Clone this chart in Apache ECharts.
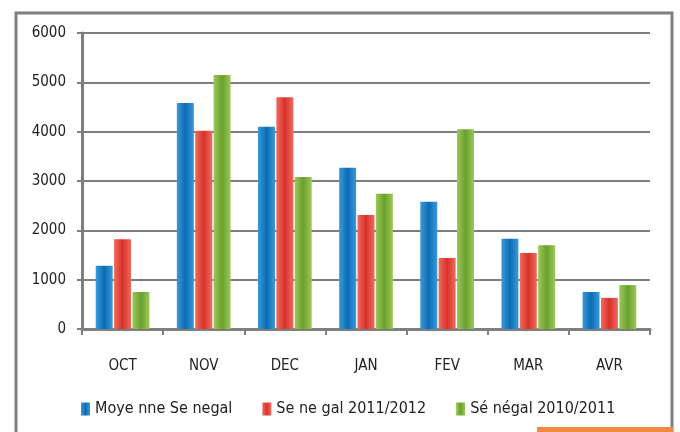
<!DOCTYPE html>
<html>
<head>
<meta charset="utf-8">
<script src="https://cdn.jsdelivr.net/npm/echarts@6/dist/echarts.min.js"></script>
<style>
  html, body { margin: 0; padding: 0; background: #fff; }
  #chart { width: 680px; height: 432px; }
</style>
</head>
<body>
<div id="chart"></div>
<script>
const months = ['OCT', 'NOV', 'DEC', 'JAN', 'FEV', 'MAR', 'AVR']
const seriesNames = ['Moye nne Se negal', 'Se ne gal 2011/2012', 'Sé négal 2010/2011']
const moyenne = [1280, 4580, 4100, 3270, 2580, 1830, 750]
const s2011 = [1820, 4020, 4700, 2310, 1440, 1540, 630]
const s2010 = [750, 5150, 3080, 2740, 4050, 1700, 890]

const font = '"DejaVu Sans Condensed", "DejaVu Sans", sans-serif'

function grad(light, dark) {
  return new echarts.graphic.LinearGradient(0, 0, 1, 0, [
    { offset: 0, color: light },
    { offset: 0.5, color: dark },
    { offset: 1, color: light }
  ])
}

const chart = echarts.init(document.getElementById('chart'))

function barSeries(name, data, light, dark) {
  return {
    name,
    type: 'bar',
    data,
    barWidth: 17,
    barGap: '8%',
    itemStyle: { color: grad(light, dark) }
  }
}

chart.setOption({
  animation: false,
  color: ['#1a7cc4', '#e5453c', '#7db33a'],
  textStyle: { fontFamily: font },
  graphic: [
    {
      type: 'rect',
      shape: { x: 16, y: 13, width: 656, height: 430 },
      style: { fill: 'none', stroke: '#7f7f7f', lineWidth: 3 },
      z: -1
    },
    {
      type: 'rect',
      shape: { x: 537, y: 427, width: 136, height: 5 },
      style: { fill: '#f08a43' }
    }
  ],
  grid: { left: 82, right: 30, top: 33, bottom: 103 },
  legend: {
    bottom: 10,
    left: 76,
    itemGap: 30,
    itemWidth: 9,
    itemHeight: 13,
    icon: 'rect',
    textStyle: { fontSize: 16, color: '#222', fontFamily: font },
    data: seriesNames
  },
  xAxis: {
    type: 'category',
    data: months,
    axisLine: { lineStyle: { color: '#7f7f7f', width: 3 } },
    axisTick: { show: true, length: 6, lineStyle: { color: '#7f7f7f', width: 2 } },
    axisLabel: { fontSize: 15, color: '#222', margin: 30 }
  },
  yAxis: {
    type: 'value',
    min: 0,
    max: 6000,
    interval: 1000,
    axisLine: { show: true, lineStyle: { color: '#7f7f7f', width: 3 } },
    axisTick: { show: true, length: 5, lineStyle: { color: '#7f7f7f', width: 2 } },
    axisLabel: { fontSize: 15, color: '#222', margin: 16, formatter: v => String(v) },
    splitLine: { lineStyle: { color: '#7f7f7f', width: 2 } }
  },
  series: [
    barSeries(seriesNames[0], moyenne, '#3a9ad8', '#0b6cb4'),
    barSeries(seriesNames[1], s2011, '#f06a5e', '#d8322a'),
    barSeries(seriesNames[2], s2010, '#9cc85a', '#6aa02c')
  ]
})
</script>
</body>
</html>
